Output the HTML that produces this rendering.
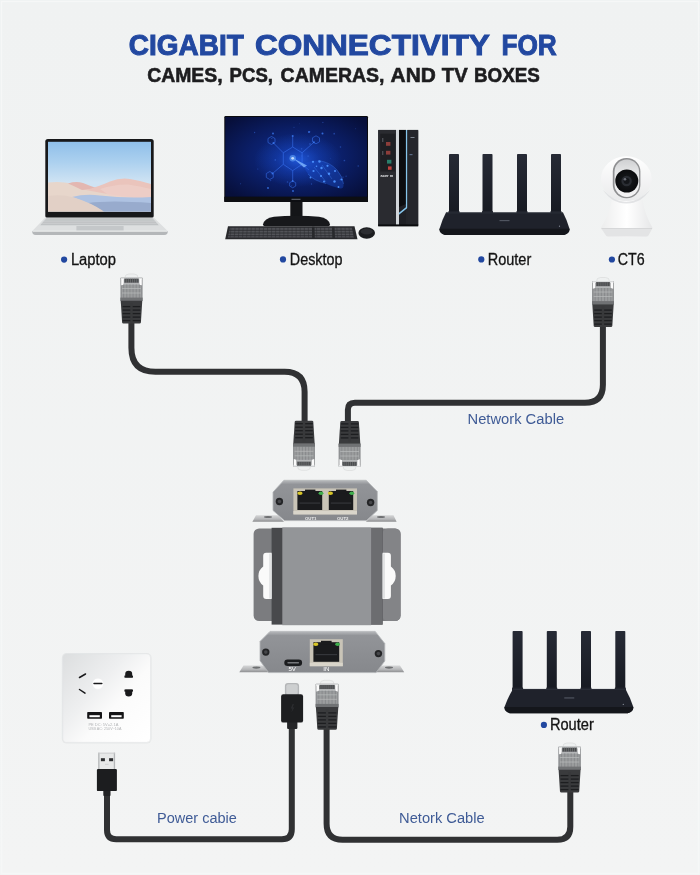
<!DOCTYPE html>
<html lang="en"><head><meta charset="utf-8"><title>Gigabit Connectivity</title>
<style>
html,body{margin:0;padding:0;background:#f1f3f3;}
body{width:700px;height:875px;overflow:hidden;font-family:"Liberation Sans",sans-serif;}
svg{display:block;will-change:transform}
.t1{font-family:"Liberation Sans",sans-serif;font-weight:700;fill:#2248a0;stroke:#2248a0;stroke-width:1px}
.t2{font-family:"Liberation Sans",sans-serif;font-weight:700;fill:#1d1d1f;stroke:#1d1d1f;stroke-width:0.6px}
.lb{font-family:"Liberation Sans",sans-serif;fill:#141414;font-size:15.6px;stroke:#141414;stroke-width:0.3px}
.cb{font-family:"Liberation Sans",sans-serif;fill:#3f5b96;font-size:15.2px}
.tiny{font-family:"Liberation Sans",sans-serif;fill:#fff;font-size:4.3px;font-weight:700}
</style></head><body>
<svg width="700" height="875" viewBox="0 0 700 875">
<defs>
<linearGradient id="bgG" x1="0" y1="0" x2="0" y2="1"><stop offset="0" stop-color="#f0f2f2"/><stop offset="1" stop-color="#f3f4f4"/></linearGradient>
<linearGradient id="lapScr" x1="0" y1="0" x2="0" y2="1"><stop offset="0" stop-color="#8fbfe9"/><stop offset="0.3" stop-color="#add1ef"/><stop offset="0.58" stop-color="#cfe3f3"/><stop offset="1" stop-color="#cfe3f3"/></linearGradient>
<radialGradient id="monScr" cx="0.5" cy="0.5" r="0.65"><stop offset="0" stop-color="#0e2f8e"/><stop offset="0.5" stop-color="#0b1f69"/><stop offset="1" stop-color="#070f3a"/></radialGradient>
<radialGradient id="monGlow" cx="0.5" cy="0.5" r="0.5"><stop offset="0" stop-color="#2461ea" stop-opacity="0.8"/><stop offset="0.5" stop-color="#1a4bd0" stop-opacity="0.35"/><stop offset="1" stop-color="#1b4fd0" stop-opacity="0"/></radialGradient>
<linearGradient id="outG" x1="0" y1="0" x2="1" y2="0.9"><stop offset="0" stop-color="#dcdedf"/><stop offset="0.4" stop-color="#eeeff0"/><stop offset="0.62" stop-color="#fbfbfb"/><stop offset="1" stop-color="#ffffff"/></linearGradient>
<linearGradient id="devTop" x1="0" y1="0" x2="0" y2="1"><stop offset="0" stop-color="#b8babd"/><stop offset="0.1" stop-color="#929498"/><stop offset="1" stop-color="#86888c"/></linearGradient>
<linearGradient id="flG" x1="0" y1="0" x2="0" y2="1"><stop offset="0" stop-color="#d5d6d7"/><stop offset="0.6" stop-color="#b4b5b7"/><stop offset="1" stop-color="#8c8d8f"/></linearGradient>
<linearGradient id="camHead" x1="0" y1="0" x2="0" y2="1"><stop offset="0" stop-color="#ffffff"/><stop offset="1" stop-color="#e9eaeb"/></linearGradient>
<linearGradient id="camBase" x1="0" y1="0" x2="1" y2="0"><stop offset="0" stop-color="#eceded"/><stop offset="0.5" stop-color="#ffffff"/><stop offset="1" stop-color="#e6e7e8"/></linearGradient>
<linearGradient id="camFace" x1="0" y1="0" x2="0" y2="1"><stop offset="0" stop-color="#cfd0d2"/><stop offset="0.35" stop-color="#e6e7e8"/><stop offset="1" stop-color="#f4f4f5"/></linearGradient>
<radialGradient id="lens" cx="0.5" cy="0.5" r="0.5"><stop offset="0" stop-color="#3a3d42"/><stop offset="0.35" stop-color="#15171a"/><stop offset="1" stop-color="#0b0c0e"/></radialGradient>
<linearGradient id="rtG" x1="0" y1="0" x2="0" y2="1"><stop offset="0" stop-color="#262a35"/><stop offset="1" stop-color="#171a22"/></linearGradient>
<linearGradient id="lapBase" x1="0" y1="0" x2="0" y2="1"><stop offset="0" stop-color="#c9ccce"/><stop offset="0.8" stop-color="#dcdedf"/><stop offset="1" stop-color="#b5b8ba"/></linearGradient>
</defs>
<rect width="700" height="875" fill="url(#bgG)"/>
<rect x="1.5" y="1.5" width="697" height="872" fill="none" stroke="#f6f7f7" stroke-width="1.2"/>
<text class="t1" y="55.2" font-size="30.2"><tspan x="128.8" textLength="115.0" lengthAdjust="spacingAndGlyphs">CIGABIT</tspan> <tspan x="254.9" textLength="234.4" lengthAdjust="spacingAndGlyphs">CONNECTIVITY</tspan> <tspan x="501.4" textLength="55.4" lengthAdjust="spacingAndGlyphs">FOR</tspan></text>
<text class="t2" y="81.6" font-size="20.1"><tspan x="147.2" textLength="75.4" lengthAdjust="spacingAndGlyphs">CAMES,</tspan> <tspan x="229.6" textLength="43.4" lengthAdjust="spacingAndGlyphs">PCS,</tspan> <tspan x="280.6" textLength="103.9" lengthAdjust="spacingAndGlyphs">CAMERAS,</tspan> <tspan x="390.6" textLength="45.2" lengthAdjust="spacingAndGlyphs">AND</tspan> <tspan x="441.8" textLength="25.9" lengthAdjust="spacingAndGlyphs">TV</tspan> <tspan x="474" textLength="65.9" lengthAdjust="spacingAndGlyphs">BOXES</tspan></text>
<g id="laptop">
<rect x="45.3" y="139" width="108.4" height="79" rx="2.6" fill="#17181a"/>
<rect x="48" y="141.8" width="103" height="69.8" fill="url(#lapScr)"/>
<path d="M48 182.5 Q60 181 72 183.5 Q84 186 96 189 L151 200 V211.6 H48Z" fill="#e7d6cb"/>
<path d="M68 183.5 Q76 181 83 183 Q90 186 98 188.5 L82 190 Q74 186 68 183.5Z" fill="#e3b7b1"/>
<path d="M86 190 Q100 186 110 181.5 Q120 177.5 130 179 Q142 181 151 184 V199 Q120 197 86 190Z" fill="#eac4bc"/>
<path d="M100 189 Q115 184 128 184.5 Q140 186 151 189 V199 L110 196Z" fill="#edd0c8" opacity="0.8"/>
<path d="M72 197 Q85 193.5 100 195.5 Q125 198.5 151 197 V211.6 H104 Q92 204 72 197Z" fill="#aec2e2"/>
<path d="M88 203 Q110 200 151 203 V211.6 H103 Q97 207 88 203Z" fill="#98abcd"/>
<path d="M48 196 Q62 194 74 197.5 Q92 203 104 211.6 H48Z" fill="#e2d0c6"/>
<path d="M45.3 217.4 H153.7 L167.2 230.4 Q168.2 231.6 167.6 233 Q167 235 164 235 H36 Q33 235 32.4 233 Q31.8 231.6 32.8 230.4Z" fill="#dddfe0"/>
<path d="M46.5 218.3 H152.5 L158.8 225.3 H40.2Z" fill="#bfc2c4"/>
<g stroke="#d3d5d6" stroke-width="0.5"><line x1="45" y1="220" x2="154" y2="220"/><line x1="43.6" y1="221.7" x2="155.4" y2="221.7"/><line x1="42.2" y1="223.5" x2="156.8" y2="223.5"/></g>
<rect x="76.4" y="226" width="47.2" height="4.8" fill="#c4c7c9"/>
<path d="M32.4 231.2 H167.6 Q168 235 164 235 H36 Q32 235 32.4 231.2Z" fill="#b4b7b9"/>
<rect x="33" y="230.6" width="134" height="1.1" fill="#eceded"/>
</g>
<circle cx="64.1" cy="259.6" r="3.1" fill="#2248a0"/>
<text class="lb" x="70.9" y="264.5" textLength="45.1" lengthAdjust="spacingAndGlyphs">Laptop</text>
<g id="desktop">
<rect x="224.3" y="116" width="143.7" height="86" rx="1.2" fill="#0a0b0f"/>
<rect x="225.3" y="117" width="141.7" height="79.8" fill="url(#monScr)"/>
<ellipse cx="298" cy="160" rx="44" ry="27" fill="url(#monGlow)"/>
<g stroke="#3f7dff" stroke-width="0.7" fill="none" opacity="0.7">
<path d="M292.7 147 L302.1 152.800 V164.3 L292.7 170.600 L283.300 164.3 V152.8Z"/>
<path d="M283.3 152.8 L273.5 143 M292.7 147 V136.500 M302.1 152.8 L313.900 142.3 M283.3 164.3 L272.5 173.500 M292.7 170.6 V181 M302.100 164.3 L309 170"/>
<path d="M271.5 136.500 l3.500 2 v4 l-3.500 2 l-3.500 -2 v-4Z M316 135.800 l3.500 2 v4 l-3.500 2 l-3.500 -2 v-4Z M269.800 171.500 l3.500 2 v4 l-3.500 2 l-3.500 -2 v-4Z M292.700 181 l3 1.700 v3.400 l-3 1.700 l-3 -1.700 v-3.400Z"/>
</g>
<path d="M292.700 158 L305 163 Q310 160.500 318 160.500 Q330 162 337 170 Q343 177 343.500 184 Q344 189 340 188.500 Q330 186 322 182 Q312 180 308 174 Q305 170 304 166.500Z" fill="#1d55d8" opacity="0.38"/>
<path d="M318 160.500 Q330 162 337 170 Q343 177 343.500 184 M308 174 Q314 181 326 183.500 M322 165 l10 14 M314 167 l12 15" stroke="#4a8cff" stroke-width="0.500" fill="none" opacity="0.600"/>
<path d="M292.700 158 L307 165.500 L304 167.500Z" fill="#7fb6ff" opacity="0.800"/>
<circle cx="292.700" cy="158.300" r="3.200" fill="#6fb0ff" opacity="0.550"/><circle cx="292.700" cy="158.300" r="1.400" fill="#cfe4ff" opacity="0.900"/>
<g fill="#4c92ff" opacity="0.950">
<circle cx="313" cy="161.800" r="1.100"/><circle cx="319.500" cy="161.500" r="1.200"/><circle cx="321.500" cy="168" r="1.200"/><circle cx="327.500" cy="165.800" r="1.100"/><circle cx="313.500" cy="171" r="1.100"/><circle cx="321" cy="176" r="1.100"/><circle cx="329" cy="173.800" r="1.200"/><circle cx="335" cy="171" r="1"/><circle cx="324" cy="181.500" r="1"/><circle cx="334.500" cy="181.500" r="1.200"/><circle cx="341.500" cy="179.500" r="1.100"/><circle cx="310.500" cy="177.500" r="0.900"/><circle cx="338.500" cy="187" r="0.900"/><circle cx="316.500" cy="166.300" r="0.800"/>
</g>
<g fill="#3d7cf5" opacity="0.800">
<circle cx="273.500" cy="143" r="1"/><circle cx="292.700" cy="136" r="1"/><circle cx="313.900" cy="142.300" r="1"/><circle cx="272.500" cy="173.500" r="1"/><circle cx="292.700" cy="181" r="0.900"/><circle cx="309" cy="132" r="1"/><circle cx="322.500" cy="133.500" r="1"/><circle cx="273" cy="133.500" r="0.900"/><circle cx="268" cy="188" r="0.900"/><circle cx="293" cy="191" r="0.900"/>
</g>
<g fill="#3466d8" opacity="0.550"><circle cx="344.4" cy="160.5" r="0.84"/><circle cx="257.8" cy="169.0" r="0.57"/><circle cx="346.1" cy="176.2" r="0.64"/><circle cx="299.4" cy="123.8" r="0.42"/><circle cx="308.1" cy="156.2" r="0.83"/><circle cx="309.8" cy="131.7" r="0.58"/><circle cx="330.3" cy="158.6" r="0.41"/><circle cx="339.2" cy="179.9" r="0.44"/><circle cx="301.6" cy="148.7" r="0.79"/><circle cx="271.8" cy="138.4" r="0.64"/><circle cx="355.7" cy="128.7" r="0.46"/><circle cx="311.5" cy="184.0" r="0.66"/><circle cx="287.5" cy="182.0" r="0.79"/><circle cx="240.6" cy="183.7" r="0.50"/><circle cx="270.7" cy="180.6" r="0.61"/><circle cx="334.2" cy="133.7" r="0.84"/><circle cx="254.6" cy="132.5" r="0.65"/><circle cx="275.3" cy="159.9" r="0.85"/><circle cx="322.9" cy="122.4" r="0.56"/><circle cx="301.8" cy="156.1" r="0.76"/><circle cx="294.0" cy="127.3" r="0.52"/><circle cx="340.5" cy="147.0" r="0.78"/><circle cx="358.2" cy="165.9" r="0.74"/><circle cx="310.0" cy="143.9" r="0.86"/><circle cx="291.8" cy="185.8" r="0.55"/><circle cx="343.0" cy="177.1" r="0.71"/></g>
<rect x="224.3" y="196.8" width="143.7" height="5.2" fill="#0d0e12"/>
<rect x="291.5" y="198.8" width="9" height="1" fill="#6c6f78"/>
<rect x="290.3" y="202" width="12.2" height="16" fill="#141518"/>
<path d="M263 224.5 Q264 218.5 274 216.8 Q284 215.8 296.5 215.8 Q309 215.8 319 216.8 Q329 218.5 330 224.5 Q330 226.3 328 226.3 H265 Q263 226.3 263 224.5Z" fill="#17181b"/>
<path d="M228 226.3 H354.5 L357.5 239.3 H225.2Z" fill="#28292c"/>
<path d="M230 227.2 H351.8 L354 237.6 H227.8Z" fill="#525358"/>
<g stroke="#2a2b2e" stroke-width="0.8"><line x1="228.6" y1="227.6" x2="353.4" y2="227.6"/><line x1="228.1" y1="230.3" x2="353.9" y2="230.3"/><line x1="227.6" y1="233.0" x2="354.4" y2="233.0"/><line x1="227.1" y1="235.7" x2="354.9" y2="235.7"/></g>
<g stroke="#2a2b2e" stroke-width="0.5"><line x1="231.0" y1="227.2" x2="230.1" y2="237.6"/><line x1="235.1" y1="227.2" x2="234.2" y2="237.6"/><line x1="239.1" y1="227.2" x2="238.4" y2="237.6"/><line x1="243.2" y1="227.2" x2="242.5" y2="237.6"/><line x1="247.3" y1="227.2" x2="246.6" y2="237.6"/><line x1="251.3" y1="227.2" x2="250.8" y2="237.6"/><line x1="255.4" y1="227.2" x2="254.9" y2="237.6"/><line x1="259.5" y1="227.2" x2="259.0" y2="237.6"/><line x1="263.6" y1="227.2" x2="263.1" y2="237.6"/><line x1="267.6" y1="227.2" x2="267.3" y2="237.6"/><line x1="271.7" y1="227.2" x2="271.4" y2="237.6"/><line x1="275.8" y1="227.2" x2="275.5" y2="237.6"/><line x1="279.8" y1="227.2" x2="279.7" y2="237.6"/><line x1="283.9" y1="227.2" x2="283.8" y2="237.6"/><line x1="288.0" y1="227.2" x2="287.9" y2="237.6"/><line x1="292.1" y1="227.2" x2="292.1" y2="237.6"/><line x1="296.1" y1="227.2" x2="296.2" y2="237.6"/><line x1="300.2" y1="227.2" x2="300.3" y2="237.6"/><line x1="304.3" y1="227.2" x2="304.4" y2="237.6"/><line x1="308.3" y1="227.2" x2="308.6" y2="237.6"/><line x1="312.4" y1="227.2" x2="312.7" y2="237.6"/><line x1="316.5" y1="227.2" x2="316.8" y2="237.6"/><line x1="320.5" y1="227.2" x2="321.0" y2="237.6"/><line x1="324.6" y1="227.2" x2="325.1" y2="237.6"/><line x1="328.7" y1="227.2" x2="329.2" y2="237.6"/><line x1="332.8" y1="227.2" x2="333.4" y2="237.6"/><line x1="336.8" y1="227.2" x2="337.5" y2="237.6"/><line x1="340.9" y1="227.2" x2="341.6" y2="237.6"/><line x1="345.0" y1="227.2" x2="345.7" y2="237.6"/><line x1="349.0" y1="227.2" x2="349.9" y2="237.6"/><line x1="353.1" y1="227.2" x2="354.0" y2="237.6"/></g>
<path d="M312 226.8 h2.5 l0.3 11.5 h-2.6Z M332 226.8 h2.5 l0.5 11.5 h-2.6Z" fill="#28292c"/>
<ellipse cx="366.7" cy="233" rx="8.3" ry="5.7" fill="#1b1c1f"/>
<ellipse cx="366.7" cy="231.5" rx="6" ry="3" fill="#2c2d31"/>
<rect x="378.200" y="129.9" width="40" height="96" rx="0.8" fill="#24252a"/>
<rect x="378.2" y="129.900" width="17.8" height="96" fill="#2a2b30"/>
<rect x="399" y="129.9" width="7" height="80" fill="#0c0d10"/>
<path d="M399 207 L406 204 V226 H399Z" fill="#1f2025"/>
<rect x="396" y="129.9" width="3" height="96" fill="#d2d6da"/>
<path d="M405.9 129.9 H407.4 V208 L399 214.8 V212.800 L405.9 207.2Z" fill="#86c6ec"/>
<rect x="407.400" y="129.9" width="10.8" height="96" fill="#25262b"/>
<rect x="380.3" y="133.7" width="14.8" height="37.800" fill="#1e1f23"/>
<rect x="386" y="142" width="4.4" height="3.8" fill="#8c3d3a"/><rect x="386" y="150.8" width="4.400" height="3.8" fill="#8c3d3a"/><rect x="387" y="159.800" width="4.4" height="3.8" fill="#2a7f6c"/><rect x="388" y="166.4" width="3.6" height="3.4" fill="#c0433f"/>
<rect x="382" y="138" width="1.4" height="4" fill="#4a4c52"/><rect x="382" y="151" width="1.400" height="4" fill="#4a4c52"/>
<text x="380.6" y="176.600" font-size="3.4" font-weight="700" fill="#e8eaec" font-family="Liberation Sans, sans-serif" textLength="12.600" lengthAdjust="spacingAndGlyphs">acer m</text>
<rect x="410.5" y="137" width="4" height="1" fill="#7d8590"/><rect x="409.5" y="154" width="3" height="1.2" fill="#5a6a86"/>
<rect x="378.2" y="224.4" width="40" height="2" fill="#0b0c0e"/>
</g>
<circle cx="283" cy="259.4" r="3.1" fill="#2248a0"/>
<text class="lb" x="289.8" y="264.5" textLength="52.7" lengthAdjust="spacingAndGlyphs">Desktop</text>
<g><rect x="449" y="154" width="10" height="60" rx="0.8" fill="url(#rtG)"/><rect x="448.5" y="211" width="11" height="4" rx="0.6" fill="#20232c"/><rect x="482.5" y="154" width="10" height="60" rx="0.8" fill="url(#rtG)"/><rect x="482.0" y="211" width="11" height="4" rx="0.6" fill="#20232c"/><rect x="517" y="154" width="10" height="60" rx="0.8" fill="url(#rtG)"/><rect x="516.5" y="211" width="11" height="4" rx="0.6" fill="#20232c"/><rect x="551" y="154" width="10" height="60" rx="0.8" fill="url(#rtG)"/><rect x="550.5" y="211" width="11" height="4" rx="0.6" fill="#20232c"/><path d="M446 212.5 H563 Q566.95 219.85 569.5 228.8 Q569.8 233.5 564.0 235 H445.0 Q439.2 233.5 439.5 228.8 Q442.05 219.85 446 212.5Z" fill="#1f222b"/><path d="M439.5 228.8 H569.5 Q569.8 233.5 564.0 235 H445.0 Q439.2 233.5 439.5 228.8Z" fill="#14161b"/><rect x="446" y="212.5" width="117" height="0.9" fill="#2c303a"/><rect x="499.5" y="220.15" width="10" height="1" fill="#595e6a"/><circle cx="559.5" cy="226.20000000000002" r="0.6" fill="#8a8f9a"/></g><circle cx="481.3" cy="259.4" r="3.1" fill="#2248a0"/>
<text class="lb" x="487.7" y="264.5" textLength="43.6" lengthAdjust="spacingAndGlyphs">Router</text>
<g id="camera">
<path d="M611.7 200 H642.6 Q644.5 214 652.4 227.600 Q652.8 229 651.5 230 L648.5 235.200 Q647.8 236.400 646 236.4 H608.3 Q606.5 236.4 605.8 235.2 L602 230 Q600.700 229 601.100 227.6 Q609.500 214 611.7 200Z" fill="url(#camBase)"/>
<path d="M601.5 228.400 H652 L648.5 235.2 Q647.800 236.4 646 236.4 H608.300 Q606.5 236.4 605.800 235.2Z" fill="#e3e4e5"/>
<rect x="601.5" y="228" width="50.5" height="0.9" fill="#d4d5d6"/>
<ellipse cx="626.3" cy="178.8" rx="25.4" ry="22.5" fill="url(#camHead)"/>
<path d="M603 190 Q626 214 650 190 Q641 203.500 626.500 203.5 Q612 203.500 603 190Z" fill="#dadbdd" opacity="0.75"/>
<rect x="612.8" y="158" width="27.6" height="40.2" rx="13.5" fill="#8f9092"/>
<rect x="614.5" y="159.5" width="24.600" height="37.400" rx="12.300" fill="url(#camFace)"/>
<circle cx="626.8" cy="181" r="11.5" fill="url(#lens)"/>
<circle cx="626.6" cy="181" r="5.2" fill="#2a2d33"/>
<circle cx="626.600" cy="181" r="3" fill="#14161a"/>
<circle cx="625" cy="179.200" r="1.300" fill="#6c7078"/>
</g>
<circle cx="611.9" cy="259.5" r="3.1" fill="#2248a0"/>
<text class="lb" x="617.7" y="264.6" textLength="26.9" lengthAdjust="spacingAndGlyphs">CT6</text>
<g fill="none" stroke="#303133" stroke-width="6" stroke-linecap="butt" stroke-linejoin="round">
<path d="M131.4 322 V347.8 Q131.4 371.8 155.4 371.8 H284.6 Q304.6 371.8 304.6 391.8 V423"/>
<path d="M602.9 325 V384.8 Q602.9 402.8 584.9 402.8 H354.9 Q347.9 402.8 347.9 409.8 V423"/>
<path d="M326.6 727 V823.8 Q326.6 839.8 342.6 839.8 H557.3 Q570.3 839.8 570.3 826.8 V791"/>
<path d="M107 790 V830 Q107 839.2 116.200 839.2 H281.8 Q291.8 839.2 291.8 829.2 V720"/>
</g>
<g transform="translate(120.4,274)">
<path d="M4.5 4 Q4.5 0 8.5 0 H13.7 Q17.7 0 17.7 4Z" fill="#eef0f0" stroke="#d6d8d9" stroke-width="0.6"/>
<rect x="0" y="3.5" width="22.2" height="23.5" rx="0.8" fill="#8f9193"/>
<rect x="0.4" y="3.5" width="21.4" height="2" fill="#d9dbdc"/>
<rect x="0.8" y="4.8" width="2.6" height="6.4" fill="#fbfbfb"/><rect x="18.8" y="4.8" width="2.6" height="6.4" fill="#fbfbfb"/>
<rect x="4" y="4.6" width="14.2" height="4.2" fill="#47494b"/>
<g stroke="#7d8082" stroke-width="0.6"><line x1="4.40" y1="4.6" x2="4.40" y2="8.8"/><line x1="6.31" y1="4.6" x2="6.31" y2="8.8"/><line x1="8.23" y1="4.6" x2="8.23" y2="8.8"/><line x1="10.14" y1="4.6" x2="10.14" y2="8.8"/><line x1="12.06" y1="4.6" x2="12.06" y2="8.8"/><line x1="13.97" y1="4.6" x2="13.97" y2="8.8"/><line x1="15.89" y1="4.6" x2="15.89" y2="8.8"/><line x1="17.80" y1="4.6" x2="17.80" y2="8.8"/></g>
<rect x="3.4" y="8.8" width="15.399999999999999" height="2" fill="#b4b6b7"/>
<rect x="1.6" y="11" width="19.0" height="13" fill="#9b9d9e"/>
<g stroke="#8a8c8e" stroke-width="1.1"><line x1="3.20" y1="10.5" x2="3.20" y2="24"/><line x1="6.36" y1="10.5" x2="6.36" y2="24"/><line x1="9.52" y1="10.5" x2="9.52" y2="24"/><line x1="12.68" y1="10.5" x2="12.68" y2="24"/><line x1="15.84" y1="10.5" x2="15.84" y2="24"/><line x1="19.00" y1="10.5" x2="19.00" y2="24"/></g>
<g stroke="#b9bbbc" stroke-width="0.7"><line x1="1.6" y1="14.5" x2="20.599999999999998" y2="14.5"/><line x1="1.6" y1="19" x2="20.599999999999998" y2="19"/></g>
<rect x="0" y="23.6" width="22.2" height="3.4" fill="#707274"/>
<path d="M0.3 26.8 H21.9 L20.5 48.5 Q20.3 49.5 19.2 49.5 H3 Q1.9 49.5 1.7 48.5Z" fill="#3a3b3d"/>
<g stroke="#1d1e20" stroke-width="1.3"><line x1="2.2" y1="32.6" x2="20.0" y2="32.6"/><line x1="2.2" y1="36.1" x2="20.0" y2="36.1"/><line x1="2.2" y1="39.6" x2="20.0" y2="39.6"/><line x1="2.2" y1="43.1" x2="20.0" y2="43.1"/><line x1="2.2" y1="46.6" x2="20.0" y2="46.6"/></g>
<rect x="9.9" y="29" width="2.4" height="20" fill="#38393b"/>
</g><g transform="translate(592,277.5)">
<path d="M4.5 4 Q4.5 0 8.5 0 H13.5 Q17.5 0 17.5 4Z" fill="#eef0f0" stroke="#d6d8d9" stroke-width="0.6"/>
<rect x="0" y="3.5" width="22" height="23.5" rx="0.8" fill="#8f9193"/>
<rect x="0.4" y="3.5" width="21.2" height="2" fill="#d9dbdc"/>
<rect x="0.8" y="4.8" width="2.6" height="6.4" fill="#fbfbfb"/><rect x="18.6" y="4.8" width="2.6" height="6.4" fill="#fbfbfb"/>
<rect x="4" y="4.6" width="14" height="4.2" fill="#47494b"/>
<g stroke="#7d8082" stroke-width="0.6"><line x1="4.40" y1="4.6" x2="4.40" y2="8.8"/><line x1="6.29" y1="4.6" x2="6.29" y2="8.8"/><line x1="8.17" y1="4.6" x2="8.17" y2="8.8"/><line x1="10.06" y1="4.6" x2="10.06" y2="8.8"/><line x1="11.94" y1="4.6" x2="11.94" y2="8.8"/><line x1="13.83" y1="4.6" x2="13.83" y2="8.8"/><line x1="15.71" y1="4.6" x2="15.71" y2="8.8"/><line x1="17.60" y1="4.6" x2="17.60" y2="8.8"/></g>
<rect x="3.4" y="8.8" width="15.2" height="2" fill="#b4b6b7"/>
<rect x="1.6" y="11" width="18.8" height="13" fill="#9b9d9e"/>
<g stroke="#8a8c8e" stroke-width="1.1"><line x1="3.20" y1="10.5" x2="3.20" y2="24"/><line x1="6.32" y1="10.5" x2="6.32" y2="24"/><line x1="9.44" y1="10.5" x2="9.44" y2="24"/><line x1="12.56" y1="10.5" x2="12.56" y2="24"/><line x1="15.68" y1="10.5" x2="15.68" y2="24"/><line x1="18.80" y1="10.5" x2="18.80" y2="24"/></g>
<g stroke="#b9bbbc" stroke-width="0.7"><line x1="1.6" y1="14.5" x2="20.4" y2="14.5"/><line x1="1.6" y1="19" x2="20.4" y2="19"/></g>
<rect x="0" y="23.6" width="22" height="3.4" fill="#707274"/>
<path d="M0.3 26.8 H21.7 L20.3 48.5 Q20.1 49.5 19 49.5 H3 Q1.9 49.5 1.7 48.5Z" fill="#3a3b3d"/>
<g stroke="#1d1e20" stroke-width="1.3"><line x1="2.2" y1="32.6" x2="19.8" y2="32.6"/><line x1="2.2" y1="36.1" x2="19.8" y2="36.1"/><line x1="2.2" y1="39.6" x2="19.8" y2="39.6"/><line x1="2.2" y1="43.1" x2="19.8" y2="43.1"/><line x1="2.2" y1="46.6" x2="19.8" y2="46.6"/></g>
<rect x="9.8" y="29" width="2.4" height="20" fill="#38393b"/>
</g><g transform="translate(293,470.3) scale(1,-1)">
<path d="M4.5 4 Q4.5 0 8.5 0 H13.5 Q17.5 0 17.5 4Z" fill="#eef0f0" stroke="#d6d8d9" stroke-width="0.6"/>
<rect x="0" y="3.5" width="22" height="23.5" rx="0.8" fill="#8f9193"/>
<rect x="0.4" y="3.5" width="21.2" height="2" fill="#d9dbdc"/>
<rect x="0.8" y="4.8" width="2.6" height="6.4" fill="#fbfbfb"/><rect x="18.6" y="4.8" width="2.6" height="6.4" fill="#fbfbfb"/>
<rect x="4" y="4.6" width="14" height="4.2" fill="#47494b"/>
<g stroke="#7d8082" stroke-width="0.6"><line x1="4.40" y1="4.6" x2="4.40" y2="8.8"/><line x1="6.29" y1="4.6" x2="6.29" y2="8.8"/><line x1="8.17" y1="4.6" x2="8.17" y2="8.8"/><line x1="10.06" y1="4.6" x2="10.06" y2="8.8"/><line x1="11.94" y1="4.6" x2="11.94" y2="8.8"/><line x1="13.83" y1="4.6" x2="13.83" y2="8.8"/><line x1="15.71" y1="4.6" x2="15.71" y2="8.8"/><line x1="17.60" y1="4.6" x2="17.60" y2="8.8"/></g>
<rect x="3.4" y="8.8" width="15.2" height="2" fill="#b4b6b7"/>
<rect x="1.6" y="11" width="18.8" height="13" fill="#9b9d9e"/>
<g stroke="#8a8c8e" stroke-width="1.1"><line x1="3.20" y1="10.5" x2="3.20" y2="24"/><line x1="6.32" y1="10.5" x2="6.32" y2="24"/><line x1="9.44" y1="10.5" x2="9.44" y2="24"/><line x1="12.56" y1="10.5" x2="12.56" y2="24"/><line x1="15.68" y1="10.5" x2="15.68" y2="24"/><line x1="18.80" y1="10.5" x2="18.80" y2="24"/></g>
<g stroke="#b9bbbc" stroke-width="0.7"><line x1="1.6" y1="14.5" x2="20.4" y2="14.5"/><line x1="1.6" y1="19" x2="20.4" y2="19"/></g>
<rect x="0" y="23.6" width="22" height="3.4" fill="#707274"/>
<path d="M0.3 26.8 H21.7 L20.3 48.5 Q20.1 49.5 19 49.5 H3 Q1.9 49.5 1.7 48.5Z" fill="#3a3b3d"/>
<g stroke="#1d1e20" stroke-width="1.3"><line x1="2.2" y1="32.6" x2="19.8" y2="32.6"/><line x1="2.2" y1="36.1" x2="19.8" y2="36.1"/><line x1="2.2" y1="39.6" x2="19.8" y2="39.6"/><line x1="2.2" y1="43.1" x2="19.8" y2="43.1"/><line x1="2.2" y1="46.6" x2="19.8" y2="46.6"/></g>
<rect x="9.8" y="29" width="2.4" height="20" fill="#38393b"/>
</g><g transform="translate(338.6,470.5) scale(1,-1)">
<path d="M4.5 4 Q4.5 0 8.5 0 H13.5 Q17.5 0 17.5 4Z" fill="#eef0f0" stroke="#d6d8d9" stroke-width="0.6"/>
<rect x="0" y="3.5" width="22" height="23.5" rx="0.8" fill="#8f9193"/>
<rect x="0.4" y="3.5" width="21.2" height="2" fill="#d9dbdc"/>
<rect x="0.8" y="4.8" width="2.6" height="6.4" fill="#fbfbfb"/><rect x="18.6" y="4.8" width="2.6" height="6.4" fill="#fbfbfb"/>
<rect x="4" y="4.6" width="14" height="4.2" fill="#47494b"/>
<g stroke="#7d8082" stroke-width="0.6"><line x1="4.40" y1="4.6" x2="4.40" y2="8.8"/><line x1="6.29" y1="4.6" x2="6.29" y2="8.8"/><line x1="8.17" y1="4.6" x2="8.17" y2="8.8"/><line x1="10.06" y1="4.6" x2="10.06" y2="8.8"/><line x1="11.94" y1="4.6" x2="11.94" y2="8.8"/><line x1="13.83" y1="4.6" x2="13.83" y2="8.8"/><line x1="15.71" y1="4.6" x2="15.71" y2="8.8"/><line x1="17.60" y1="4.6" x2="17.60" y2="8.8"/></g>
<rect x="3.4" y="8.8" width="15.2" height="2" fill="#b4b6b7"/>
<rect x="1.6" y="11" width="18.8" height="13" fill="#9b9d9e"/>
<g stroke="#8a8c8e" stroke-width="1.1"><line x1="3.20" y1="10.5" x2="3.20" y2="24"/><line x1="6.32" y1="10.5" x2="6.32" y2="24"/><line x1="9.44" y1="10.5" x2="9.44" y2="24"/><line x1="12.56" y1="10.5" x2="12.56" y2="24"/><line x1="15.68" y1="10.5" x2="15.68" y2="24"/><line x1="18.80" y1="10.5" x2="18.80" y2="24"/></g>
<g stroke="#b9bbbc" stroke-width="0.7"><line x1="1.6" y1="14.5" x2="20.4" y2="14.5"/><line x1="1.6" y1="19" x2="20.4" y2="19"/></g>
<rect x="0" y="23.6" width="22" height="3.4" fill="#707274"/>
<path d="M0.3 26.8 H21.7 L20.3 48.5 Q20.1 49.5 19 49.5 H3 Q1.9 49.5 1.7 48.5Z" fill="#3a3b3d"/>
<g stroke="#1d1e20" stroke-width="1.3"><line x1="2.2" y1="32.6" x2="19.8" y2="32.6"/><line x1="2.2" y1="36.1" x2="19.8" y2="36.1"/><line x1="2.2" y1="39.6" x2="19.8" y2="39.6"/><line x1="2.2" y1="43.1" x2="19.8" y2="43.1"/><line x1="2.2" y1="46.6" x2="19.8" y2="46.6"/></g>
<rect x="9.8" y="29" width="2.4" height="20" fill="#38393b"/>
</g><g transform="translate(315.6,680.3)">
<path d="M4.5 4 Q4.5 0 8.5 0 H14.5 Q18.5 0 18.5 4Z" fill="#eef0f0" stroke="#d6d8d9" stroke-width="0.6"/>
<rect x="0" y="3.5" width="23" height="23.5" rx="0.8" fill="#8f9193"/>
<rect x="0.4" y="3.5" width="22.2" height="2" fill="#d9dbdc"/>
<rect x="0.8" y="4.8" width="2.6" height="6.4" fill="#fbfbfb"/><rect x="19.6" y="4.8" width="2.6" height="6.4" fill="#fbfbfb"/>
<rect x="4" y="4.6" width="15" height="4.2" fill="#47494b"/>
<g stroke="#7d8082" stroke-width="0.6"><line x1="4.40" y1="4.6" x2="4.40" y2="8.8"/><line x1="6.43" y1="4.6" x2="6.43" y2="8.8"/><line x1="8.46" y1="4.6" x2="8.46" y2="8.8"/><line x1="10.49" y1="4.6" x2="10.49" y2="8.8"/><line x1="12.51" y1="4.6" x2="12.51" y2="8.8"/><line x1="14.54" y1="4.6" x2="14.54" y2="8.8"/><line x1="16.57" y1="4.6" x2="16.57" y2="8.8"/><line x1="18.60" y1="4.6" x2="18.60" y2="8.8"/></g>
<rect x="3.4" y="8.8" width="16.2" height="2" fill="#b4b6b7"/>
<rect x="1.6" y="11" width="19.8" height="13" fill="#9b9d9e"/>
<g stroke="#8a8c8e" stroke-width="1.1"><line x1="3.20" y1="10.5" x2="3.20" y2="24"/><line x1="6.52" y1="10.5" x2="6.52" y2="24"/><line x1="9.84" y1="10.5" x2="9.84" y2="24"/><line x1="13.16" y1="10.5" x2="13.16" y2="24"/><line x1="16.48" y1="10.5" x2="16.48" y2="24"/><line x1="19.80" y1="10.5" x2="19.80" y2="24"/></g>
<g stroke="#b9bbbc" stroke-width="0.7"><line x1="1.6" y1="14.5" x2="21.4" y2="14.5"/><line x1="1.6" y1="19" x2="21.4" y2="19"/></g>
<rect x="0" y="23.6" width="23" height="3.4" fill="#707274"/>
<path d="M0.3 26.8 H22.7 L21.3 48.5 Q21.1 49.5 20 49.5 H3 Q1.9 49.5 1.7 48.5Z" fill="#3a3b3d"/>
<g stroke="#1d1e20" stroke-width="1.3"><line x1="2.2" y1="32.6" x2="20.8" y2="32.6"/><line x1="2.2" y1="36.1" x2="20.8" y2="36.1"/><line x1="2.2" y1="39.6" x2="20.8" y2="39.6"/><line x1="2.2" y1="43.1" x2="20.8" y2="43.1"/><line x1="2.2" y1="46.6" x2="20.8" y2="46.6"/></g>
<rect x="10.3" y="29" width="2.4" height="20" fill="#38393b"/>
</g><g transform="translate(558.3,743)">
<path d="M4.5 4 Q4.5 0 8.5 0 H14.100000000000001 Q18.1 0 18.1 4Z" fill="#eef0f0" stroke="#d6d8d9" stroke-width="0.6"/>
<rect x="0" y="3.5" width="22.6" height="23.5" rx="0.8" fill="#8f9193"/>
<rect x="0.4" y="3.5" width="21.8" height="2" fill="#d9dbdc"/>
<rect x="0.8" y="4.8" width="2.6" height="6.4" fill="#fbfbfb"/><rect x="19.200000000000003" y="4.8" width="2.6" height="6.4" fill="#fbfbfb"/>
<rect x="4" y="4.6" width="14.600000000000001" height="4.2" fill="#47494b"/>
<g stroke="#7d8082" stroke-width="0.6"><line x1="4.40" y1="4.6" x2="4.40" y2="8.8"/><line x1="6.37" y1="4.6" x2="6.37" y2="8.8"/><line x1="8.34" y1="4.6" x2="8.34" y2="8.8"/><line x1="10.31" y1="4.6" x2="10.31" y2="8.8"/><line x1="12.29" y1="4.6" x2="12.29" y2="8.8"/><line x1="14.26" y1="4.6" x2="14.26" y2="8.8"/><line x1="16.23" y1="4.6" x2="16.23" y2="8.8"/><line x1="18.20" y1="4.6" x2="18.20" y2="8.8"/></g>
<rect x="3.4" y="8.8" width="15.8" height="2" fill="#b4b6b7"/>
<rect x="1.6" y="11" width="19.400000000000002" height="13" fill="#9b9d9e"/>
<g stroke="#8a8c8e" stroke-width="1.1"><line x1="3.20" y1="10.5" x2="3.20" y2="24"/><line x1="6.44" y1="10.5" x2="6.44" y2="24"/><line x1="9.68" y1="10.5" x2="9.68" y2="24"/><line x1="12.92" y1="10.5" x2="12.92" y2="24"/><line x1="16.16" y1="10.5" x2="16.16" y2="24"/><line x1="19.40" y1="10.5" x2="19.40" y2="24"/></g>
<g stroke="#b9bbbc" stroke-width="0.7"><line x1="1.6" y1="14.5" x2="21.0" y2="14.5"/><line x1="1.6" y1="19" x2="21.0" y2="19"/></g>
<rect x="0" y="23.6" width="22.6" height="3.4" fill="#707274"/>
<path d="M0.3 26.8 H22.3 L20.900000000000002 48.5 Q20.700000000000003 49.5 19.6 49.5 H3 Q1.9 49.5 1.7 48.5Z" fill="#3a3b3d"/>
<g stroke="#1d1e20" stroke-width="1.3"><line x1="2.2" y1="32.6" x2="20.400000000000002" y2="32.6"/><line x1="2.2" y1="36.1" x2="20.400000000000002" y2="36.1"/><line x1="2.2" y1="39.6" x2="20.400000000000002" y2="39.6"/><line x1="2.2" y1="43.1" x2="20.400000000000002" y2="43.1"/><line x1="2.2" y1="46.6" x2="20.400000000000002" y2="46.6"/></g>
<rect x="10.100000000000001" y="29" width="2.4" height="20" fill="#38393b"/>
</g><text class="cb" x="467.5" y="424.2" textLength="96.6" lengthAdjust="spacingAndGlyphs">Network Cable</text>
<text class="cb" x="157" y="823.4" textLength="79.8" lengthAdjust="spacingAndGlyphs">Power cabie</text>
<text class="cb" x="399.1" y="823.4" textLength="85.6" lengthAdjust="spacingAndGlyphs">Netork Cable</text>
<g id="devtop">
<path d="M256 515.2 H278 L284 521.8 H252.4Z" fill="url(#flG)"/>
<path d="M372 515.2 H393.5 L396.6 521.8 H366Z" fill="url(#flG)"/>
<ellipse cx="268" cy="517" rx="4" ry="1.1" fill="#6e7072"/><ellipse cx="381" cy="517" rx="4" ry="1.1" fill="#6e7072"/>
<path d="M283.9 480.3 H366.2 L377.3 491.5 V510.4 L366.5 520.6 H284.4 L273 510.4 V492.1Z" fill="url(#devTop)" stroke="#b4b6b9" stroke-width="0.8"/>
<rect x="293.4" y="488.4" width="63.6" height="26" fill="#c9c4b7"/>
<rect x="293.4" y="511" width="63.600" height="3.4" fill="#d9d5ca"/>
<rect x="297.4" y="491" width="24.8" height="19" fill="#1a1b1d"/>
<rect x="328.800" y="491" width="24.4" height="19" fill="#1a1b1d"/>
<rect x="305" y="489.6" width="10.4" height="3.5" fill="#1a1b1d"/><rect x="336" y="489.6" width="10.400" height="3.5" fill="#1a1b1d"/>
<rect x="299.5" y="502.500" width="20.6" height="1.2" fill="#34363a"/><rect x="330.8" y="502.5" width="20.4" height="1.2" fill="#34363a"/>
<ellipse cx="300" cy="493.2" rx="2.6" ry="1.8" fill="#d8c628"/><ellipse cx="321" cy="493.2" rx="2.4" ry="1.800" fill="#3fae4c"/>
<ellipse cx="330.4" cy="493.2" rx="2.6" ry="1.8" fill="#d8c628"/><ellipse cx="351.8" cy="493.2" rx="2.4" ry="1.8" fill="#3fae4c"/>
<circle cx="279.4" cy="501.500" r="3.700" fill="#232426"/><circle cx="279.4" cy="501.5" r="1.8" fill="#46474a"/>
<circle cx="370.6" cy="502.5" r="3.7" fill="#232426"/><circle cx="370.6" cy="502.500" r="1.8" fill="#46474a"/>
<text class="tiny" x="310.7" y="519.5" text-anchor="middle" opacity="0.85">OUT1</text>
<text class="tiny" x="342.7" y="519.5" text-anchor="middle" opacity="0.85">OUT2</text>
</g>
<g id="devmid">
<rect x="253.6" y="528.5" width="147" height="92.6" rx="5.5" fill="#7b7c7f"/>
<rect x="382.5" y="528.5" width="18.1" height="92.600" rx="5.5" fill="#838487"/>
<rect x="271.6" y="527.800" width="111" height="96.8" fill="#48494c"/>
<rect x="371" y="527.8" width="11.6" height="96.800" fill="#6c6d70"/>
<rect x="282.3" y="527.4" width="88.8" height="97.800" fill="#939598"/>
<path d="M263.2 555.8 Q263.2 552.8 266.2 552.8 H271.6 V599 H266.2 Q263.2 599 263.200 596 V585.5 Q258.4 582 258.400 576 Q258.400 570 263.2 566.5Z" fill="#fafafa"/>
<path d="M390.9 555.8 Q390.9 552.800 387.9 552.8 H382.6 V599 H387.900 Q390.9 599 390.900 596 V585.500 Q395.7 582 395.700 576 Q395.700 570 390.900 566.5Z" fill="#fafafa"/>
<rect x="269.2" y="553.5" width="2.4" height="45" fill="#e2e3e4"/><rect x="382.6" y="553.5" width="2.400" height="45" fill="#e2e3e4"/>
</g>
<g id="devbot">
<path d="M243.5 665.6 H265.7 L270 672.300 H239.300Z" fill="url(#flG)"/>
<path d="M379 665.6 H400 L404.200 672.3 H374Z" fill="url(#flG)"/>
<ellipse cx="256.4" cy="667.6" rx="4" ry="1.100" fill="#6e7072"/><ellipse cx="389" cy="667.600" rx="4" ry="1.1" fill="#6e7072"/>
<path d="M270 631.4 H375.2 L384.8 643.5 V661 L376 672.6 H268.6 L260 660.7 V641.4Z" fill="url(#devTop)" stroke="#b4b6b9" stroke-width="0.8"/>
<rect x="309.8" y="639.200" width="33" height="27" fill="#c9c4b7"/>
<rect x="309.800" y="662.8" width="33" height="3.4" fill="#d9d5ca"/>
<rect x="313.4" y="642.2" width="25.8" height="19.600" fill="#1a1b1d"/>
<rect x="321" y="640.800" width="10.6" height="3.5" fill="#1a1b1d"/>
<rect x="315.5" y="654" width="21.6" height="1.2" fill="#34363a"/>
<ellipse cx="315.8" cy="644.2" rx="2.600" ry="1.8" fill="#d8c628"/><ellipse cx="337.6" cy="644.200" rx="2.4" ry="1.8" fill="#3fae4c"/>
<rect x="284.3" y="659.5" width="17.8" height="6.400" rx="3.2" fill="#1b1c1e"/>
<rect x="287.300" y="662" width="11.8" height="1.4" rx="0.7" fill="#75777a"/>
<circle cx="265.8" cy="652.1" r="3.7" fill="#232426"/><circle cx="265.800" cy="652.1" r="1.8" fill="#46474a"/>
<circle cx="378.4" cy="653.600" r="3.7" fill="#232426"/><circle cx="378.400" cy="653.6" r="1.8" fill="#46474a"/>
<text class="tiny" x="292.2" y="671.1" text-anchor="middle" style="font-size:6.2px;font-weight:400">5V</text>
<text class="tiny" x="326.400" y="671.1" text-anchor="middle" style="font-size:6.2px;font-weight:400">IN</text>
</g>
<g id="usbc">
<rect x="287.1" y="720" width="10.3" height="9" rx="1" fill="#252628"/>
<path d="M284.9 695.5 V686 Q284.9 683.1 287.8 683.1 H296.2 Q299.1 683.1 299.1 686 V695.5Z" fill="#b4b6b8"/>
<rect x="286.3" y="684.2" width="11.4" height="10.5" rx="2" fill="#cdcfd0"/>
<rect x="281.1" y="694.2" width="22" height="28.4" rx="2.2" fill="#1d1e20"/>
<path d="M292.6 704 l-1.800 4.500 h1.600 l-1 4 l3 -5 h-1.700 l1.200 -3.500Z" fill="#2c2d30"/>
</g>
<g id="outlet">
<rect x="61.8" y="653" width="89.8" height="90.6" rx="5" fill="#e6e8e8"/>
<rect x="62.8" y="653.7" width="87.8" height="88.7" rx="4" fill="url(#outG)" stroke="#e3e4e5" stroke-width="0.6"/>
<g stroke="#1a1a1c" stroke-width="1.5" stroke-linecap="round">
<line x1="79.5" y1="677.5" x2="85.5" y2="674"/><line x1="79.5" y1="689.5" x2="85" y2="693.2"/>
</g>
<circle cx="98" cy="683.8" r="5.6" fill="#ffffff" stroke="#ededee" stroke-width="0.5"/>
<line x1="94" y1="683.4" x2="101.8" y2="683.4" stroke="#1a1a1c" stroke-width="1.5" stroke-linecap="round"/>
<path d="M125.2 677.6 V674 Q125.2 670.8 128.7 670.8 Q132.2 670.8 132.2 674 V677.6Z" fill="#1a1a1c"/>
<rect x="124.4" y="675.6" width="8.6" height="2" fill="#1a1a1c"/>
<path d="M125.2 689.6 V693.2 Q125.2 696.4 128.7 696.4 Q132.2 696.4 132.2 693.2 V689.6Z" fill="#1a1a1c"/>
<rect x="124.4" y="689.6" width="8.6" height="2" fill="#1a1a1c"/>
<rect x="87.2" y="712" width="14.8" height="6.8" rx="0.8" fill="#141416"/>
<rect x="89.4" y="715.2" width="10.4" height="2" fill="#fdfdfd"/>
<rect x="109" y="712" width="14.8" height="6.8" rx="0.8" fill="#141416"/>
<rect x="111.2" y="715.2" width="10.4" height="2" fill="#fdfdfd"/>
<text x="88.4" y="726.3" font-size="3.2" fill="#b3b5b7" font-family="Liberation Sans, sans-serif" textLength="30" lengthAdjust="spacingAndGlyphs">PE DC: 5V=2.1A</text>
<text x="88.4" y="730.3" font-size="3.2" fill="#b3b5b7" font-family="Liberation Sans, sans-serif" textLength="33" lengthAdjust="spacingAndGlyphs">USB AC: 250V~10A</text>
</g>
<g id="usba">
<rect x="103.3" y="789" width="7.2" height="7" rx="0.8" fill="#222325"/>
<rect x="98.2" y="752.7" width="16.900" height="17" fill="#e7e8e8"/>
<rect x="98.2" y="752.7" width="1.3" height="17" fill="#b5b7b9"/><rect x="113.800" y="752.7" width="1.3" height="17" fill="#b5b7b9"/>
<rect x="98.2" y="752.700" width="16.9" height="0.9" fill="#c9cbcc"/>
<rect x="100.9" y="758.2" width="4" height="3" fill="#2d2e30"/><rect x="109.1" y="758.200" width="4" height="3" fill="#2d2e30"/>
<rect x="105" y="763.8" width="3.6" height="1" fill="#cfd0d1"/>
<rect x="96.9" y="768.9" width="20" height="22.200" rx="1.2" fill="#1c1d1f"/>
</g>
<g><rect x="512.6" y="631" width="10" height="59.5" rx="0.8" fill="url(#rtG)"/><rect x="512.1" y="687.5" width="11" height="4" rx="0.6" fill="#20232c"/><rect x="546.8" y="631" width="10" height="59.5" rx="0.8" fill="url(#rtG)"/><rect x="546.3" y="687.5" width="11" height="4" rx="0.6" fill="#20232c"/><rect x="581" y="631" width="10" height="59.5" rx="0.8" fill="url(#rtG)"/><rect x="580.5" y="687.5" width="11" height="4" rx="0.6" fill="#20232c"/><rect x="615.3" y="631" width="10" height="59.5" rx="0.8" fill="url(#rtG)"/><rect x="614.8" y="687.5" width="11" height="4" rx="0.6" fill="#20232c"/><path d="M513 688.9 H625.5 Q630.1 697.1500000000001 633.3 707.0 Q633.5999999999999 711.7 627.8 713.2 H510.0 Q504.2 711.7 504.5 707.0 Q508.05 697.1500000000001 513 688.9Z" fill="#1f222b"/><path d="M504.5 707.0 H633.3 Q633.5999999999999 711.7 627.8 713.2 H510.0 Q504.2 711.7 504.5 707.0Z" fill="#14161b"/><rect x="513" y="688.9" width="112.5" height="0.9" fill="#2c303a"/><rect x="564.25" y="697.45" width="10" height="1" fill="#595e6a"/><circle cx="623.3" cy="704.4" r="0.6" fill="#8a8f9a"/></g><circle cx="543.9" cy="724.9" r="3.1" fill="#2248a0"/>
<text class="lb" x="549.9" y="730" textLength="43.9" lengthAdjust="spacingAndGlyphs">Router</text>
</svg>
</body></html>
